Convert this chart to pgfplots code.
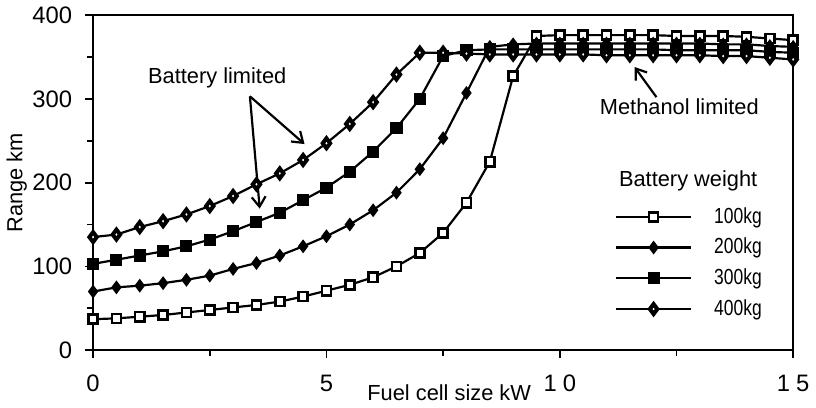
\documentclass[border=0pt]{standalone}
\usepackage{fontspec}
\setmainfont{Liberation Sans}
\usepackage{pgfplots}
\usepackage{pgfplotstable}
\pgfplotsset{compat=1.18}
\usetikzlibrary{arrows.meta}

% range (km) against fuel cell size (kW), one table per battery weight
\pgfplotstableread{
x y
0 37
0.5 38
1 40
1.5 42
2 45
2.5 48
3 51
3.5 54
4 58
4.5 64
5 71
5.5 78
6 87
6.5 100
7 116
7.5 140
8 176
8.5 225
9 327
9.5 375
10 376
10.5 376
11 376
11.5 376
12 376
12.5 375
13 375
13.5 375
14 374
14.5 372
15 370
}\bwone
\pgfplotstableread{
x y
0 70
0.5 75
1 77
1.5 80
2 84
2.5 89
3 97
3.5 104
4 113
4.5 124
5 136
5.5 150
6 167
6.5 188
7 216
7.5 253
8 307
8.5 362
9 365
9.5 366
10 366
10.5 366
11 366
11.5 366
12 366
12.5 366
13 366
13.5 365
14 365
14.5 363
15 362
}\bwtwo
\pgfplotstableread{
x y
0 103
0.5 108
1 113
1.5 118
2 124
2.5 132
3 142
3.5 153
4 164
4.5 179
5 194
5.5 213
6 237
6.5 265
7 300
7.5 351
8 358
8.5 359
9 359
9.5 359
10 359
10.5 359
11 359
11.5 359
12 359
12.5 358
13 358
13.5 358
14 358
14.5 356
15 355
}\bwthree
\pgfplotstableread{
x y
0 135
0.5 138
1 147
1.5 154
2 162
2.5 172
3 184
3.5 198
4 211
4.5 227
5 247
5.5 270
6 296
6.5 329
7 355
7.5 355
8 354
8.5 353
9 353
9.5 353
10 353
10.5 353
11 352
11.5 352
12 352
12.5 352
13 352
13.5 351
14 351
14.5 349
15 347
}\bwfour

\begin{document}
\begin{tikzpicture}[every node/.append style={font=\fontsize{11}{13}\selectfont}]
\begin{axis}[
    scale only axis,
    width=353pt, height=169pt,
    xmin=0, xmax=15, ymin=0, ymax=400,
    xtick={0,5,10,15},
    xticklabels={0,5,1\hspace{3pt}0,1\hspace{3pt}5},
    minor xtick={2.5,7.5,12.5},
    ytick={0,100,200,300,400},
    minor ytick={50,150,250,350},
    tick align=outside, tick pos=left,
    major tick length=4pt, minor tick length=3pt,
    every tick/.style={black, line width=0.9pt},
    axis line style={line width=1.2pt},
    /pgf/number format/assume math mode=true,
    ticklabel style={font=\large},
    xticklabel style={yshift=-5pt},
    yticklabel style={xshift=-3pt},
    xlabel={Fuel cell size kW},
    xlabel style={at={(axis cs:7.63,0)}, anchor=north, yshift=-14pt},
    ylabel={Range km},
    ylabel style={at={(axis description cs:-0.109,0.5)}, anchor=center},
    every axis plot/.append style={black, line width=1.1pt},
    legend style={draw=none, fill=none, at={(axis cs:11.17,178)}, anchor=north west,
        inner sep=0pt, row sep=0pt, column sep=11pt,
        nodes={inner sep=0pt, minimum height=15.5pt}},
    legend cell align=left,
    legend image code/.code={
        \draw[mark repeat=2, mark phase=2, #1] plot coordinates {(0pt,0pt) (19pt,0pt) (38pt,0pt)};
    },
]
\addplot[mark=square*, mark size=2.3pt, mark options={fill=white, line width=1.3pt}] table {\bwone};
\addlegendentry{\scalebox{0.8}[1]{100kg}}
\addplot[mark=diamond*, mark size=2.6pt, mark options={fill=black}] table {\bwtwo};
\addlegendentry{\scalebox{0.8}[1]{200kg}}
\addplot[mark=square*, mark size=2.5pt, mark options={fill=black}] table {\bwthree};
\addlegendentry{\scalebox{0.8}[1]{300kg}}
\addplot[mark=diamond*, mark size=2.5pt, mark options={fill=white, line width=2pt}] table {\bwfour};
\addlegendentry{\scalebox{0.8}[1]{400kg}}

\node at (axis cs:2.66,325) {Battery limited};
\draw[line width=1.1pt, -{Straight Barb[length=5pt, width=7pt]}] (axis cs:3.36,303) -- (axis cs:3.57,169);
\draw[line width=1.1pt, -{Straight Barb[length=5pt, width=7pt]}] (axis cs:3.36,303) -- (axis cs:4.53,246);
\node at (axis cs:12.56,290) {Methanol limited};
\draw[line width=1.1pt, -{Straight Barb[length=5pt, width=7pt]}] (axis cs:12.07,302) -- (axis cs:11.6,338);
\node at (axis cs:12.75,202) {Battery weight};
\end{axis}
\end{tikzpicture}
\end{document}
